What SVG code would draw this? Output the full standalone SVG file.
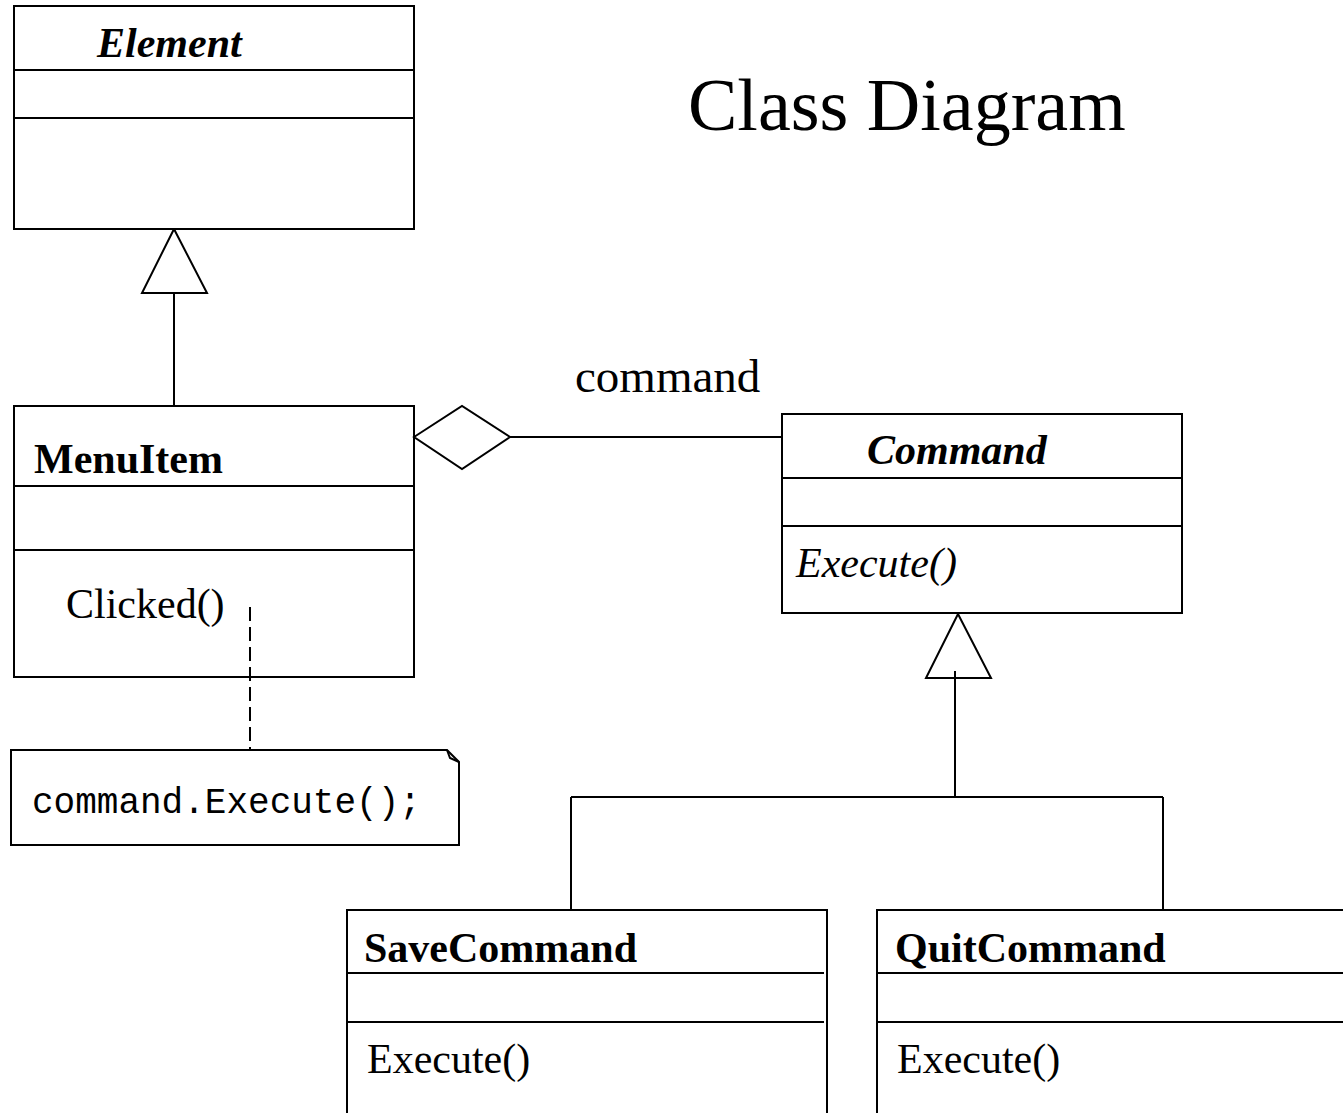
<svg xmlns="http://www.w3.org/2000/svg" width="1343" height="1113" viewBox="0 0 1343 1113">
  <style>
    .box { fill: #fff; stroke: #000; stroke-width: 2; }
    .ln { fill: none; stroke: #000; stroke-width: 2; }
    .tri { fill: #fff; stroke: #000; stroke-width: 2; stroke-linejoin: miter; }
    .dash { fill: none; stroke: #000; stroke-width: 2; stroke-dasharray: 14 6; }
    .t { font-family: "Liberation Serif", "Times New Roman", serif; font-size: 42px; fill: #000; }
    .name { font-weight: bold; }
    .abs { font-weight: bold; font-style: italic; }
    .op { font-style: italic; }
    .mono { font-family: "Liberation Mono", "Courier New", monospace; font-size: 36px; fill: #000; }
  </style>

  <rect width="1343" height="1113" fill="#fff"/>

  <text class="t" x="688" y="130" style="font-size:74px">Class Diagram</text>

  <g id="connectors">
    <!-- MenuItem generalises Element -->
    <line class="ln" x1="174" y1="293" x2="174" y2="406"/>
    <polygon class="tri" points="174,229 207,293 142,293"/>
    <!-- aggregation MenuItem -> Command -->
    <line class="ln" x1="510" y1="437" x2="782" y2="437"/>
    <polygon class="tri" points="414,437 462,406 510,437 462,469"/>
    <!-- concrete commands generalise Command -->
    <polygon class="tri" points="958,614 991,678 926,678"/>
    <line class="ln" x1="955" y1="671" x2="955" y2="797"/>
    <line class="ln" x1="571" y1="797" x2="1163" y2="797"/>
    <line class="ln" x1="571" y1="797" x2="571" y2="910"/>
    <line class="ln" x1="1163" y1="797" x2="1163" y2="910"/>
    <!-- note anchor -->
    <line class="dash" x1="250" y1="607" x2="250" y2="750"/>
  </g>

  <g id="label-command">
    <text class="t" x="575" y="392" style="font-size:47px">command</text>
  </g>

  <g id="element">
    <rect class="box" x="14" y="6" width="400" height="223"/>
    <line class="ln" x1="14" y1="70" x2="414" y2="70"/>
    <line class="ln" x1="14" y1="118" x2="414" y2="118"/>
    <text class="t abs" x="97" y="57">Element</text>
  </g>

  <g id="menuitem">
    <rect class="box" x="14" y="406" width="400" height="271" fill-opacity="0"/>
    <line class="ln" x1="14" y1="486" x2="414" y2="486"/>
    <line class="ln" x1="14" y1="550" x2="414" y2="550"/>
    <text class="t name" x="34" y="473">MenuItem</text>
    <text class="t" x="66" y="618">Clicked()</text>
  </g>

  <g id="note">
    <path class="box" d="M11,750 H447 L459,762 V845 H11 Z"/>
    <path class="ln" d="M447,750 L450,758 L459,762"/>
    <text class="mono" x="32" y="813">command.Execute();</text>
  </g>

  <g id="command">
    <rect class="box" x="782" y="414" width="400" height="199"/>
    <line class="ln" x1="782" y1="478" x2="1182" y2="478"/>
    <line class="ln" x1="782" y1="526" x2="1182" y2="526"/>
    <text class="t abs" x="867" y="464">Command</text>
    <text class="t op" x="796" y="577">Execute()</text>
  </g>

  <g id="savecommand">
    <path class="ln" d="M347,1115 V910 H827 V1115"/>
    <line class="ln" x1="347" y1="973" x2="824" y2="973"/>
    <line class="ln" x1="347" y1="1022" x2="824" y2="1022"/>
    <text class="t name" x="364" y="962">SaveCommand</text>
    <text class="t" x="367" y="1073">Execute()</text>
  </g>

  <g id="quitcommand">
    <path class="ln" d="M877,1115 V910 H1345"/>
    <line class="ln" x1="877" y1="973" x2="1345" y2="973"/>
    <line class="ln" x1="877" y1="1022" x2="1345" y2="1022"/>
    <text class="t name" x="895" y="962">QuitCommand</text>
    <text class="t" x="897" y="1073">Execute()</text>
  </g>
</svg>
